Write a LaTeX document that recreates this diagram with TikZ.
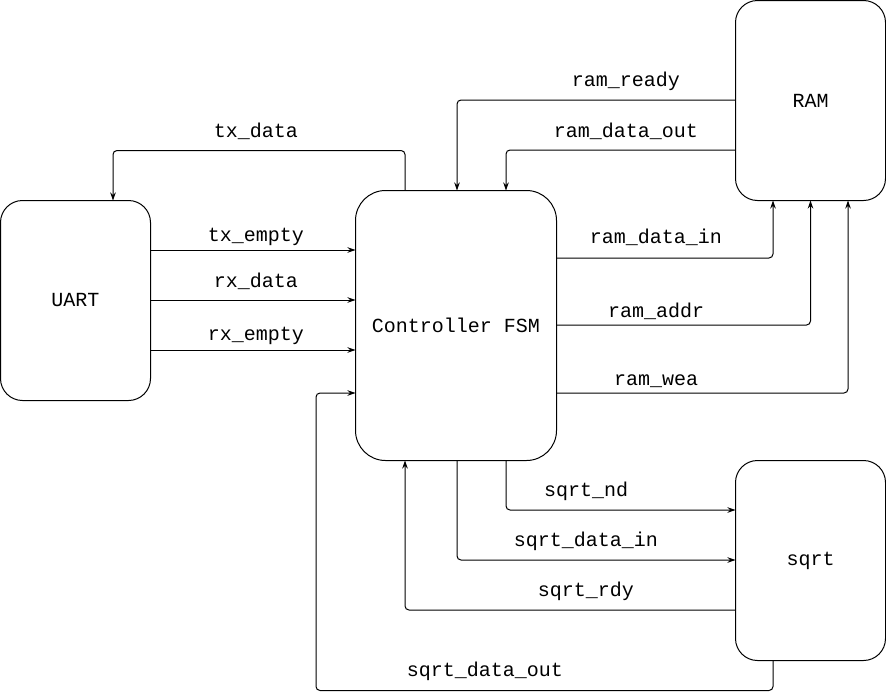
\documentclass[tikz,border=0pt]{standalone}
\usepackage{fontspec}
\setmonofont{Liberation Mono}
\usetikzlibrary{positioning,arrows.meta}

\begin{document}
\begin{tikzpicture}[
  x=1pt, y=-1pt,
  block/.style={draw, line width=1pt, rounded corners=22pt, minimum width=150pt, minimum height=200pt, inner sep=0pt, outer sep=0pt, font=\ttfamily\fontsize{20}{22}\selectfont},
  wire/.style={line width=1pt, rounded corners=4pt, -{Stealth[length=8pt,width=5.5pt]}},
  sig/.style={inner sep=0pt, font=\ttfamily\fontsize{20}{22}\selectfont}
]
  \useasboundingbox (0,0) rectangle (886,699);

  \node[block] (uart) at (75.5,300.5) {UART};
  \node[block, minimum width=201pt, minimum height=270pt, rounded corners=30pt] (fsm) at (456,325.5) {Controller FSM};
  \node[block] (ram)  at (810.5,100.5) {RAM};
  \node[block] (sqrt) at (810.5,560.5) {sqrt};

  % UART side
  \draw[wire] (fsm.north -| 405,0) -- ++(0,-40) -| (uart.north -| 113,0);
  \draw[wire] (uart.east |- 0,250) -- (fsm.west |- 0,250);
  \draw[wire] (uart.east |- 0,300) -- (fsm.west |- 0,300);
  \draw[wire] (uart.east |- 0,350) -- (fsm.west |- 0,350);

  % RAM side
  \draw[wire] (ram.west |- 0,100) -| (fsm.north -| 457,0);
  \draw[wire] (ram.west |- 0,150) -| (fsm.north -| 506,0);
  \draw[wire] (fsm.east |- 0,258) -| (ram.south -| 773,0);
  \draw[wire] (fsm.east |- 0,325) -| (ram.south);
  \draw[wire] (fsm.east |- 0,393) -| (ram.south -| 848,0);

  % sqrt side
  \draw[wire] (fsm.south -| 506,0) |- (sqrt.west |- 0,510);
  \draw[wire] (fsm.south -| 457,0) |- (sqrt.west |- 0,560);
  \draw[wire] (sqrt.west |- 0,610) -| (fsm.south -| 405,0);
  \draw[wire] (sqrt.south -| 773,0) -- ++(0,30) -| (316,393) -- (fsm.west |- 0,393);

  \node[sig] (l-txdata)   at (256,131) {tx\_data};
  \node[sig] (l-txempty)  at (256,237) {tx\_empty};
  \node[sig] (l-rxdata)   at (256,281) {rx\_data};
  \node[sig] (l-rxempty)  at (256,336) {rx\_empty};
  \node[sig] (l-ramready) at (626,81)  {ram\_ready};
  \node[sig] (l-ramout)   at (626,131) {ram\_data\_out};
  \node[sig] (l-ramin)    at (656,237) {ram\_data\_in};
  \node[sig] (l-ramaddr)  at (656,311) {ram\_addr};
  \node[sig] (l-ramwea)   at (656,381) {ram\_wea};
  \node[sig] (l-sqrtnd)   at (586,491) {sqrt\_nd};
  \node[sig] (l-sqrtin)   at (586,541) {sqrt\_data\_in};
  \node[sig] (l-sqrtrdy)  at (586,591) {sqrt\_rdy};
  \node[sig] (l-sqrtout)  at (485,671) {sqrt\_data\_out};
\end{tikzpicture}
\end{document}
